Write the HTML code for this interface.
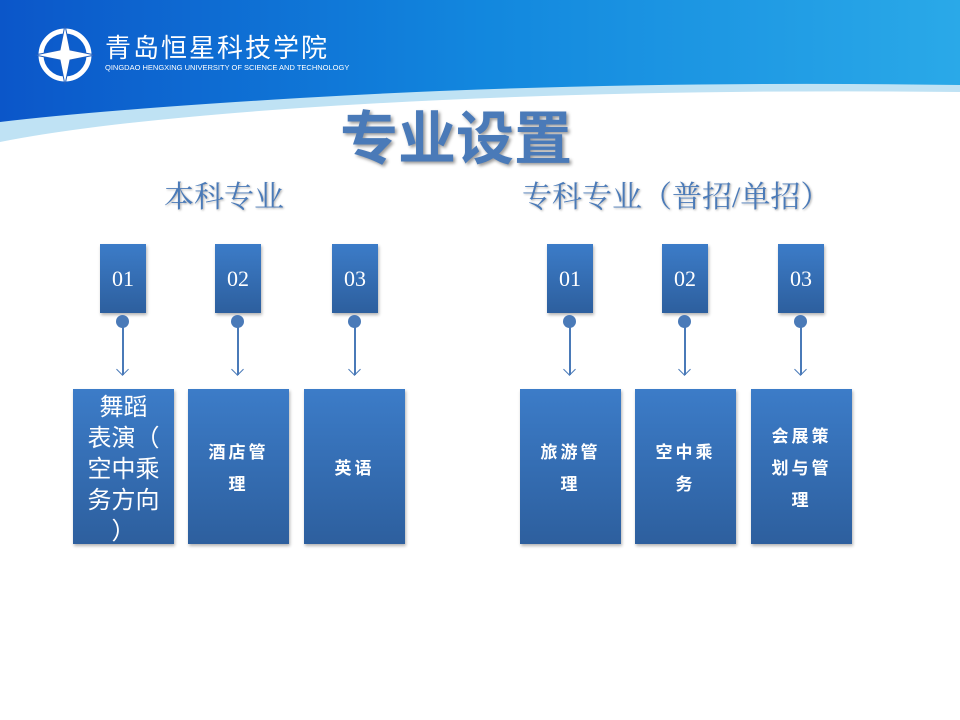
<!DOCTYPE html>
<html><head><meta charset="utf-8"><style>
body{margin:0;width:960px;height:720px;position:relative;overflow:hidden;background:#fff;font-family:"Liberation Serif","Noto Serif CJK SC",serif}
.a{position:absolute}
.t{background:linear-gradient(#3c7cc8,#2d5f9e);box-shadow:1px 2px 3px rgba(0,0,0,.3);color:#fff;text-align:center}
.top{width:46px;height:69px;top:244px;font-size:22px;line-height:69px}
.bot{width:101px;height:155px;top:389px;display:flex;align-items:center;justify-content:center;font-family:"Noto Sans CJK SC",sans-serif;font-weight:bold;font-size:17px;line-height:32px;letter-spacing:3px}
.bot div{width:66px}
.dot{width:13px;height:13px;border-radius:50%;background:#4a7ab8;top:315px}
.ln{width:1.5px;background:#4a7ab8;top:327px;height:48px}
.ar{width:8px;height:8px;border-right:1.5px solid #4a7ab8;border-bottom:1.5px solid #4a7ab8;transform:rotate(45deg);top:365px}
</style></head><body>
<svg class="a" style="left:0;top:0" width="960" height="160">
<defs><linearGradient id="g" x1="0" y1="0" x2="1" y2="0"><stop offset="0" stop-color="#0b56c9"/><stop offset=".5" stop-color="#1287de"/><stop offset="1" stop-color="#2aa9e8"/></linearGradient></defs>
<path d="M0 0H960V92Q600 88 300 108Q100 122 0 142Z" fill="#bfe2f4"/>
<path d="M0 0H960V85Q600 80 300 98Q100 110 0 122Z" fill="url(#g)"/>
<circle cx="65" cy="55" r="24" fill="none" stroke="#fff" stroke-width="5"/>
<path d="M65 25L70 50L95 55L70 60L65 85L60 60L35 55L60 50Z" fill="#fff" stroke="#1a5cc0"/>
<text x="105" y="57" fill="#fff" font-size="26" font-family="Noto Sans CJK SC" letter-spacing="2">青岛恒星科技学院</text>
<text x="105" y="70" fill="#fff" font-size="7.5" font-family="Liberation Sans">QINGDAO HENGXING UNIVERSITY OF SCIENCE AND TECHNOLOGY</text>
</svg>
<div class="a" style="left:340px;top:98px;font-size:58px;font-weight:bold;color:#4a7ab8;font-family:'Noto Sans CJK SC',sans-serif;text-shadow:2px 2px 3px #999;line-height:72px">专业设置</div>
<div class="a" style="left:164px;top:172px;font-size:30px;color:#4a7ab8;text-shadow:1px 1px 2px #aaa">本科专业</div>
<div class="a" style="left:522px;top:172px;font-size:30px;color:#4a7ab8;text-shadow:1px 1px 2px #aaa">专科专业（普招/单招）</div>

<div class="a t top" style="left:100px">01</div><div class="a t top" style="left:215px">02</div><div class="a t top" style="left:332px">03</div>
<div class="a t top" style="left:547px">01</div><div class="a t top" style="left:662px">02</div><div class="a t top" style="left:778px">03</div>

<div class="a dot" style="left:116px"></div><div class="a ln" style="left:122px"></div><div class="a ar" style="left:118px"></div>
<div class="a dot" style="left:231px"></div><div class="a ln" style="left:237px"></div><div class="a ar" style="left:233px"></div>
<div class="a dot" style="left:348px"></div><div class="a ln" style="left:354px"></div><div class="a ar" style="left:350px"></div>
<div class="a dot" style="left:563px"></div><div class="a ln" style="left:569px"></div><div class="a ar" style="left:565px"></div>
<div class="a dot" style="left:678px"></div><div class="a ln" style="left:684px"></div><div class="a ar" style="left:680px"></div>
<div class="a dot" style="left:794px"></div><div class="a ln" style="left:800px"></div><div class="a ar" style="left:796px"></div>

<div class="a t bot" style="left:73px;font-weight:normal;font-size:24px;line-height:31px;letter-spacing:0"><div style="width:90px">舞蹈<br>表演（<br>空中乘<br>务方向<br>）</div></div>
<div class="a t bot" style="left:188px"><div>酒店管<br>理</div></div>
<div class="a t bot" style="left:304px"><div>英语</div></div>
<div class="a t bot" style="left:520px"><div>旅游管<br>理</div></div>
<div class="a t bot" style="left:635px"><div>空中乘<br>务</div></div>
<div class="a t bot" style="left:751px"><div>会展策<br>划与管<br>理</div></div>
</body></html>
